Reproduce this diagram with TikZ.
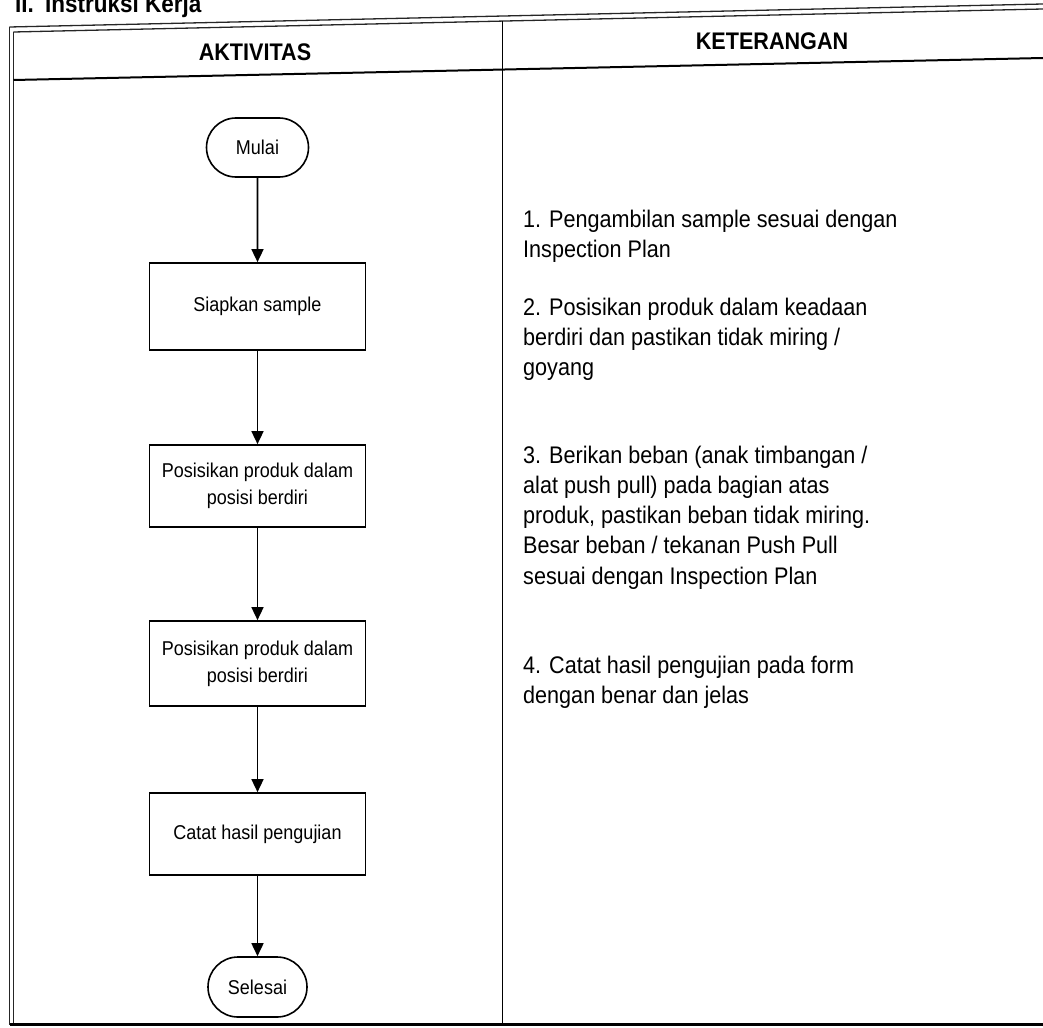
\documentclass[tikz,border=0pt]{standalone}
\usepackage{fontspec}
\setmainfont{Liberation Sans}[FakeStretch=0.9]
\usetikzlibrary{arrows.meta,shapes.misc}
\begin{document}
\begin{tikzpicture}[x=1pt,y=-1pt,
  frame/.style={line width=1.3pt,black!85},
  term/.style={rounded rectangle, draw, line width=1.6pt, inner sep=0pt,
    font=\fontsize{20}{27}\selectfont},
  procbox/.style={rectangle, draw, line width=1.7pt, minimum width=216pt,
    align=center, inner sep=0pt, font=\fontsize{20}{27}\selectfont},
  arr/.style={line width=1.6pt, -{Triangle[length=13pt,width=12pt]}},
  head/.style={font=\bfseries\fontsize{24}{28}\selectfont},
  note/.style={anchor=north west, align=left, inner sep=0pt,
    font=\fontsize{24}{30.3}\selectfont}
]
\useasboundingbox (0,0) rectangle (1043,1027);

% section title
\node[anchor=base west, inner sep=0pt, font=\bfseries\fontsize{25}{30}\selectfont]
  (title) at (15,13) {II.\hspace{5pt} Instruksi Kerja};

% table frame
\draw[frame] (9.5,27) -- (1043,4);
\draw[frame] (13.5,32) -- (1043,9);
\draw[frame] (9.5,27) -- (9.5,1025);
\draw[frame] (13.5,32) -- (13.5,1023);
\draw[line width=2pt] (13.5,80) -- (1043,58);
\draw[line width=1.6pt] (502.5,21) -- (502.5,1024);
\draw[line width=2.6pt] (9.5,1024.5) -- (1043,1024.5);

% column headers
\node[head] (aktivitas) at (255,52) {AKTIVITAS};
\node[head] (keterangan) at (772,41) {KETERANGAN};

% flowchart
\node[term, minimum width=102pt, minimum height=59pt] (mulai) at (257.5,147.5) {Mulai};
\node[procbox, minimum height=87pt] (siapkan) at (257.5,306.5) {Siapkan sample};
\node[procbox, minimum height=82pt] (posisi1) at (257.5,486) {Posisikan produk dalam\\posisi berdiri};
\node[procbox, minimum height=85pt] (posisi2) at (257.5,663.5) {Posisikan produk dalam\\posisi berdiri};
\node[procbox, minimum height=82pt] (catat) at (257.5,834) {Catat hasil pengujian};
\node[term, minimum width=99pt, minimum height=60pt] (selesai) at (257.5,987) {Selesai};

\draw[arr] (mulai) -- (siapkan);
\draw[arr] (siapkan) -- (posisi1);
\draw[arr] (posisi1) -- (posisi2);
\draw[arr] (posisi2) -- (catat);
\draw[arr] (catat) -- (selesai);

% notes
\node[note] (k1) at (523,209.5) {1. Pengambilan sample sesuai dengan\\Inspection Plan};
\node[note] (k2) at (523,297.5) {2. Posisikan produk dalam keadaan\\berdiri dan pastikan tidak miring /\\goyang};
\node[note] (k3) at (523,445.5) {3. Berikan beban (anak timbangan /\\alat push pull) pada bagian atas\\produk, pastikan beban tidak miring.\\Besar beban / tekanan Push Pull\\sesuai dengan Inspection Plan};
\node[note] (k4) at (523,655.5) {4. Catat hasil pengujian pada form\\dengan benar dan jelas};
\end{tikzpicture}
\end{document}
